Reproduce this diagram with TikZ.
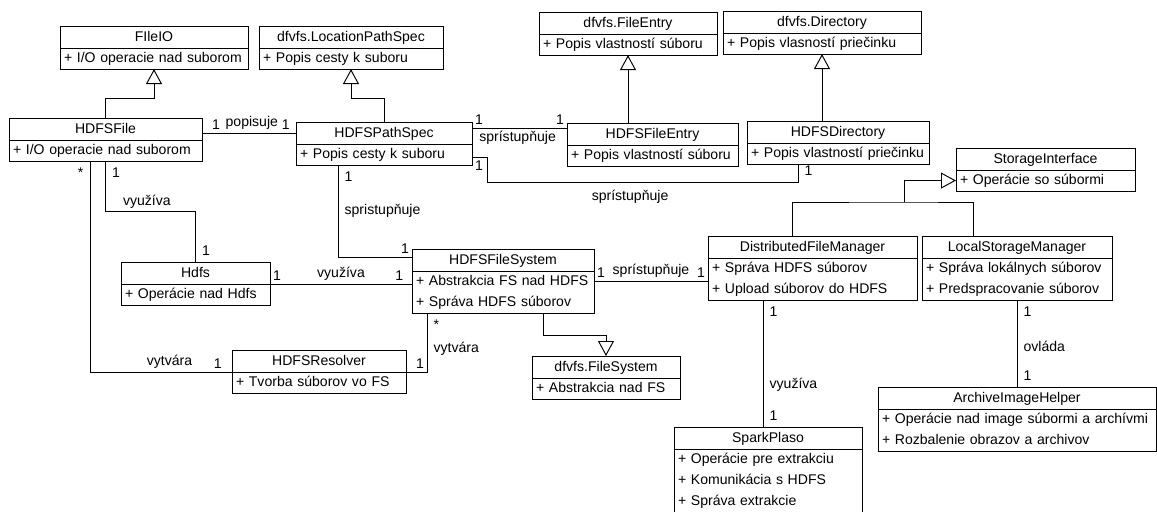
\documentclass[tikz,border=0pt]{standalone}
\usepackage{fontspec}
\setmainfont{Liberation Sans}
\usetikzlibrary{arrows.meta,calc}
\newlength{\pxu}
\setlength{\pxu}{0.02cm}
\tikzstyle{classhead}=[draw,line width=0.55pt,anchor=north west,inner sep=0pt,outer sep=0pt,minimum height=22\pxu,font=\fontsize{8}{12}\selectfont,execute at begin node=\strut]
\tikzstyle{classbody}=[draw,line width=0.55pt,anchor=north west,inner xsep=4\pxu,inner ysep=0pt,outer sep=0pt,align=left,font=\fontsize{8}{12}\selectfont,execute at begin node=\strut,execute at end node=\strut]
\tikzstyle{assocedge}=[draw,line width=0.55pt]
\tikzstyle{inheritedge}=[draw,line width=0.55pt,-{Triangle[open,length=0.3cm,width=0.32cm]}]
\tikzstyle{edgelabel}=[font=\fontsize{8}{12}\selectfont,inner sep=1.5pt]
\tikzstyle{sidelabel}=[font=\fontsize{8}{12}\selectfont,inner sep=3.5pt]

\begin{document}
\begin{tikzpicture}[x=0.02cm,y=-0.02cm]
\useasboundingbox[fill=white] (0,0) rectangle (1157,511);

% classes: name/left/top/width/title/attributes
\foreach \name/\x/\y/\w/\title/\attrs in {
    fileio/60/26/188/FIleIO/{+ I/O operacie nad suborom},
    locpath/259/26/184/dfvfs.LocationPathSpec/{+ Popis cesty k suboru},
    fileentry/539/12/178/dfvfs.FileEntry/{+ Popis vlastností súboru},
    directory/723/11/198/dfvfs.Directory/{+ Popis vlasností priečinku},
    hdfsfile/9/118/193/HDFSFile/{+ I/O operacie nad suborom},
    pathspec/296/122/176/HDFSPathSpec/{+ Popis cesty k suboru},
    hdfsfileentry/567/123/171/HDFSFileEntry/{+ Popis vlastností súboru},
    hdfsdirectory/747/121/182/HDFSDirectory/{+ Popis vlastností priečinku},
    storage/956/148/179/StorageInterface/{+ Operácie so súbormi},
    hdfs/121/262/149/Hdfs/{+ Operácie nad Hdfs},
    filesystem/412/249/182/HDFSFileSystem/{+ Abstrakcia FS nad HDFS\\+ Správa HDFS súborov},
    dfm/708/236/209/DistributedFileManager/{+ Správa HDFS súborov\\+ Upload súborov do HDFS},
    lsm/922/236/190/LocalStorageManager/{+ Správa lokálnych súborov\\+ Predspracovanie súborov},
    resolver/232/350/174/HDFSResolver/{+ Tvorba súborov vo FS},
    dfvfsfs/532/356/148/dfvfs.FileSystem/{+ Abstrakcia nad FS},
    archive/878/387/278/ArchiveImageHelper/{+ Operácie nad image súbormi a archívmi\\+ Rozbalenie obrazov a archivov},
    sparkplaso/674/427/188/SparkPlaso/{+ Operácie pre extrakciu\\+ Komunikácia s HDFS\\+ Správa extrakcie}}
{
    \pgfmathsetmacro{\tw}{\w-8}
    \node[classhead,minimum width=\w\pxu] (\name) at (\x,\y) {\title};
    \node[classbody,text width=\tw\pxu] (\name-a) at (\name.south west) {\attrs};
}

% generalizations
\draw[inheritedge] (hdfsfile.north) -- ++(0,-20) -| (fileio-a.south);
\draw[inheritedge] (pathspec.north) -- ++(0,-24) -| (locpath-a.south);
\draw[inheritedge] (hdfsfileentry.north -| fileentry-a.south) -- (fileentry-a.south);
\draw[inheritedge] (hdfsdirectory.north -| directory-a.south) -- (directory-a.south);
\draw[inheritedge] ([xshift=131\pxu]filesystem-a.south west) -- ++(0,22) -| (dfvfsfs.north);
\coordinate (dfmtop) at ([xshift=-20.5\pxu]dfm.north);
\coordinate (lsmtop) at ([xshift=-44\pxu]lsm.north);
\coordinate (sijoin) at (904,202);
\draw[assocedge] (dfmtop) |- (sijoin) -| (lsmtop);
\draw[inheritedge] (sijoin) |- (storage-a.west);

% associations
\draw[assocedge] (pathspec.west -| hdfsfile.east) -- node[edgelabel,pos=0.15,above] (m1) {1} node[edgelabel,pos=0.53,above] (r1) {popisuje} node[edgelabel,pos=0.89,above] (m2) {1} (pathspec.west);

\coordinate (psfe) at ([yshift=5\pxu]pathspec.east);
\draw[assocedge] (psfe) -- node[edgelabel,pos=0,above right] (m3) {1} node[edgelabel,pos=0.48,below] (r2) {sprístupňuje} node[edgelabel,pos=1,above left] (m4) {1} (psfe -| hdfsfileentry.west);

\coordinate (dirbend) at (487,182);
\draw[assocedge] ([yshift=-3\pxu]pathspec-a.east) -| node[edgelabel,pos=0,anchor=north west] (m5) {1} (dirbend) -| node[edgelabel,pos=0.23,below=3pt] (r3) {sprístupňuje} node[sidelabel,pos=0.5,anchor=south west] (m6) {1} ([xshift=51\pxu]hdfsdirectory-a.south west);

\draw[assocedge] ([xshift=42\pxu]pathspec-a.south west) |- node[sidelabel,pos=0,anchor=north west] (m7) {1} node[sidelabel,pos=0.25,anchor=west] (r4) {spristupňuje} node[edgelabel,pos=1,anchor=south east] (m8) {1} ([yshift=3\pxu]filesystem.west);

\draw[assocedge] (hdfsfile-a.south) -- node[sidelabel,pos=0,anchor=north west] (m9) {1} ++(0,50) -| node[edgelabel,pos=0.23,above] (r5) {využíva} node[sidelabel,pos=1,anchor=south west] (m10) {1} (hdfs.north);

\draw[assocedge] ([xshift=-15.5\pxu]hdfsfile-a.south) |- node[sidelabel,pos=0,anchor=north east] (m11) {*} node[edgelabel,pos=0.78,above] (r6) {vytvára} node[edgelabel,pos=0.95,above] (m12) {1} (resolver.south west);

\draw[assocedge] (hdfs.south east) -- node[edgelabel,pos=0,above right] (m13) {1} node[edgelabel,pos=0.5,above] (r7) {využíva} node[edgelabel,pos=0.96,above left] (m14) {1} (hdfs.south east -| filesystem.west);

\draw[assocedge] ([xshift=15\pxu]filesystem-a.south west) |- node[sidelabel,pos=0,anchor=north west] (m15) {*} node[sidelabel,pos=0.3,anchor=west] (r8) {vytvára} node[edgelabel,pos=0.5,anchor=south east] (m16) {1} (resolver.south east);

\coordinate (fsdfm) at ([yshift=-10\pxu]filesystem-a.north east);
\draw[assocedge] (fsdfm) -- node[edgelabel,pos=0,above right] (m17) {1} node[edgelabel,pos=0.5,above] (r9) {sprístupňuje} node[edgelabel,pos=1,above left] (m18) {1} (fsdfm -| dfm-a.west);

\coordinate (sparktop) at ([xshift=-5\pxu]sparkplaso.north);
\draw[assocedge] (sparktop |- dfm-a.south) -- node[sidelabel,pos=0,anchor=north west] (m19) {1} node[sidelabel,pos=0.67,anchor=west] (r10) {využíva} node[sidelabel,pos=1,anchor=south west] (m20) {1} (sparktop);

\draw[assocedge] (lsm-a.south) -- node[sidelabel,pos=0,anchor=north west] (m21) {1} node[sidelabel,pos=0.53,anchor=west] (r11) {ovláda} node[sidelabel,pos=1,anchor=south west] (m22) {1} (archive.north);

\end{tikzpicture}
\end{document}
